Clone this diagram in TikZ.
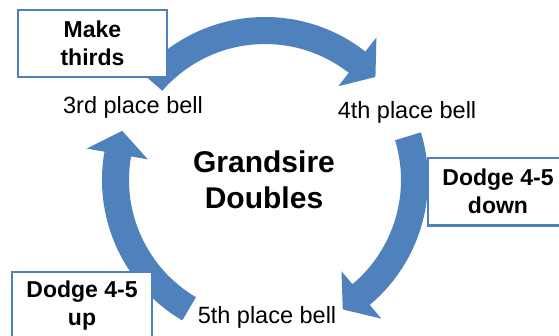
\documentclass[tikz,border=0pt]{standalone}
\usepackage{fontspec}
\setmainfont{Liberation Sans}
\definecolor{ablue}{HTML}{4F81BD}
\newcommand\ringarrow[3]{%
  \fill[ablue] (#1:163pt) arc[start angle=#1, end angle=#2, radius=163pt]
    -- (#2:181pt) -- (#3:151pt) -- (#2:119pt) -- (#2:136pt)
    arc[start angle=#2, end angle=#1, radius=136pt] -- cycle;}
\begin{document}
\begin{tikzpicture}[x=1pt,y=1pt,
  lbl/.style={font=\fontsize{23.5}{28}\selectfont, inner sep=0pt, anchor=base},
  notebox/.style={draw=ablue, line width=2.5pt, fill=white, align=center,
    inner sep=0pt, font=\bfseries\fontsize{23}{28}\selectfont},
  notetext/.style={align=center, inner sep=0pt, font=\bfseries\fontsize{23}{28}\selectfont},
  boxline/.style={draw=ablue, line width=2.5pt},
  ttl/.style={font=\bfseries\fontsize{30}{36}\selectfont, align=center, inner sep=0pt}]
\useasboundingbox (0,0) rectangle (559,-335);
\clip (0,0) rectangle (559,-335);
\coordinate (c) at (265,-180);
\begin{scope}[shift={(c)}]
  \ringarrow{139}{52}{43}
  \ringarrow{17}{-50}{-59}
  \ringarrow{239.5}{170}{161}
\end{scope}
\node[ttl] (title) at (264,-180) {Grandsire\\Doubles};
\node[lbl] (third) at (133,-113) {3rd place bell};
\node[lbl] (fourth) at (407,-118) {4th place bell};
\node[lbl] (fifth) at (267,-323) {5th place bell};
\node[notebox, minimum width=149pt, minimum height=67pt] (make) at (92.5,-43.5) {Make\\thirds};
\node[fill=white, inner sep=0pt, minimum width=150pt, minimum height=67pt, anchor=north west] (ddown) at (428,-158) {};
\draw[boxline] (ddown.north east) -- (ddown.north west) -- (ddown.south west) -- (ddown.south east);
\node[notetext] (ddownt) at (498,-191.5) {Dodge 4-5\\down};
\node[notebox, minimum width=140pt, minimum height=67pt] (dup) at (82,-305.5) {Dodge 4-5\\up};
\end{tikzpicture}
\end{document}
